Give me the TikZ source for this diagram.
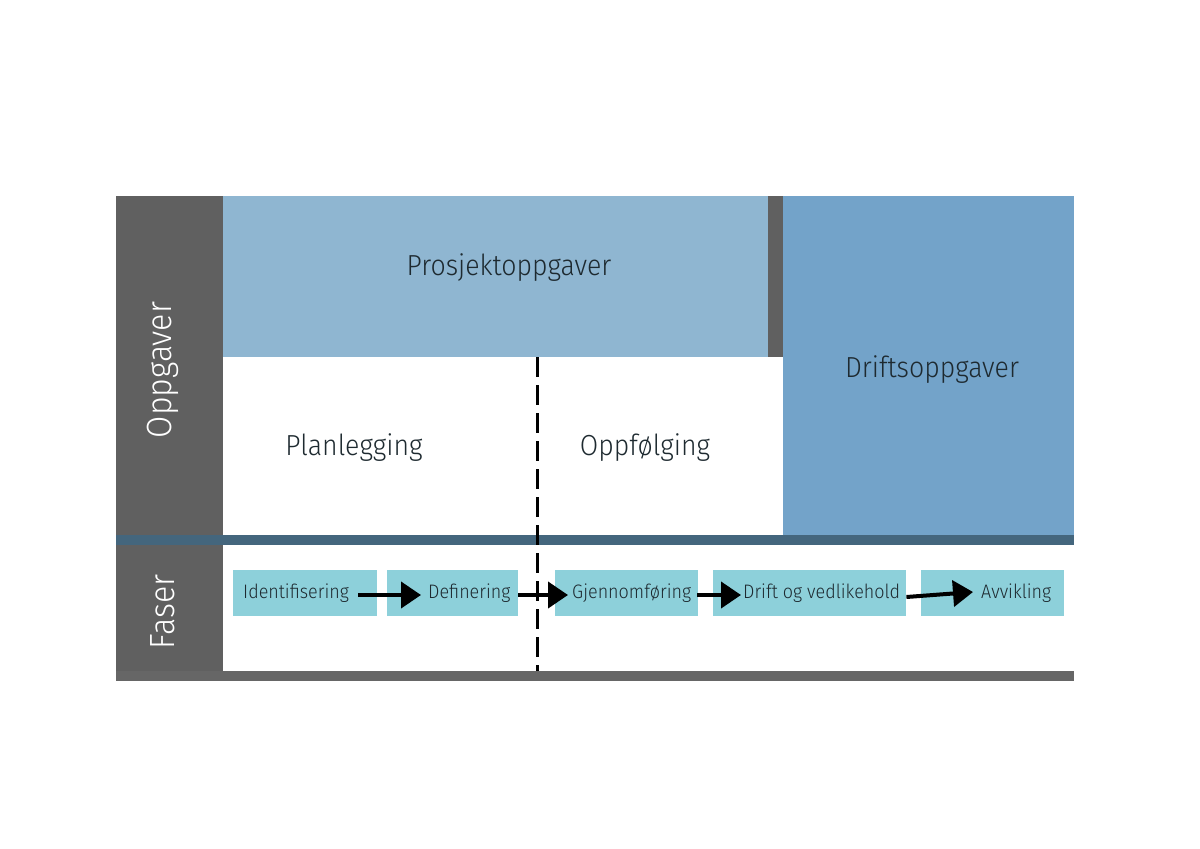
\documentclass[tikz,border=0pt]{standalone}
\usepackage{fontspec}
\setmainfont{Fira Sans Light}[FakeStretch=0.92]
\usetikzlibrary{arrows.meta}
\definecolor{bardark}{HTML}{606060}
\definecolor{projblue}{HTML}{8FB6D1}
\definecolor{driftblue}{HTML}{73A3C9}
\definecolor{bandblue}{HTML}{44667D}
\definecolor{phasecyan}{HTML}{8DD0DA}
\definecolor{bottomgray}{HTML}{666666}
\definecolor{txt}{HTML}{1E2A30}
\tikzset{
  area/.style={draw=none, inner sep=0pt, anchor=north west},
  bigtxt/.style={text=txt, font=\fontsize{29}{33}\selectfont, inner sep=0pt},
  sidetxt/.style={text=white, font=\fontsize{35}{38}\selectfont, inner sep=0pt, rotate=90},
  phasebox/.style={fill=phasecyan, minimum height=46pt, inner sep=0pt, anchor=west},
  phasetxt/.style={text=txt, font=\fontsize{19.5}{22}\selectfont, inner sep=0pt, anchor=west},
  flow/.style={line width=4pt, -{Triangle[length=20pt,width=26pt]}},
}
\begin{document}
\begin{tikzpicture}[x=1pt,y=-1pt]
\useasboundingbox (0,0) rectangle (1200,849);
% areas
\node[area, fill=bardark, minimum width=107pt, minimum height=485pt] (sidebar) at (116,196) {};
\node[area, fill=projblue, minimum width=545pt, minimum height=161pt] (proj) at (223,196) {};
\node[area, fill=bardark, minimum width=15pt, minimum height=161pt] (sep) at (768,196) {};
\node[area, fill=driftblue, minimum width=291pt, minimum height=339pt] (drift) at (783,196) {};
\node[area, fill=bandblue, minimum width=958pt, minimum height=10pt] (band) at (116,535) {};
\node[area, fill=bottomgray, minimum width=958pt, minimum height=10pt] (bottom) at (116,671) {};
% dashed divider
\coordinate (dtop) at (537,357);
\coordinate (dbot) at (537,671);
\draw[line width=3pt, dash pattern=on 20pt off 8pt] (dtop) -- (dbot);
% texts
\node[bigtxt] (tproj) at (509,268) {Prosjektoppgaver};
\node[bigtxt] (tdrift) at (932,370) {Driftsoppgaver};
\node[bigtxt] (tplan) at (354,448) {Planlegging};
\node[bigtxt] (toppf) at (645,448) {Oppfølging};
\node[sidetxt] (topp) at (163,370) {Oppgaver};
\node[sidetxt] (tfaser) at (163,612) {Faser};
% phase boxes
\node[phasebox, minimum width=144pt] (b1) at (233,593) {};
\node[phasebox, minimum width=131pt] (b2) at (387,593) {};
\node[phasebox, minimum width=143pt] (b3) at (555,593) {};
\node[phasebox, minimum width=193pt] (b4) at (713,593) {};
\node[phasebox, minimum width=143pt] (b5) at (921,593) {};
\node[phasetxt] (p1) at (243,593) {Identifisering};
\node[phasetxt] (p2) at (428,593) {Definering};
\node[phasetxt] (p3) at (572,593) {Gjennomføring};
\node[phasetxt] (p4) at (743,593) {Drift og vedlikehold};
\node[phasetxt] (p5) at (981,593) {Avvikling};
% arrows
\draw[flow] ([xshift=9pt,yshift=-2pt]p1.east) -- ([xshift=-7pt,yshift=-2pt]p2.west);
\draw[flow] ([yshift=-2pt]b2.east) -- ([xshift=-4pt,yshift=-2pt]p3.west);
\draw[flow] ([xshift=6pt,yshift=-2pt]p3.east) -- ([xshift=-2pt,yshift=-2pt]p4.west);
\draw[flow] ([yshift=-4pt]b4.east) -- ([xshift=-8pt,yshift=1pt]p5.west);
\end{tikzpicture}
\end{document}
